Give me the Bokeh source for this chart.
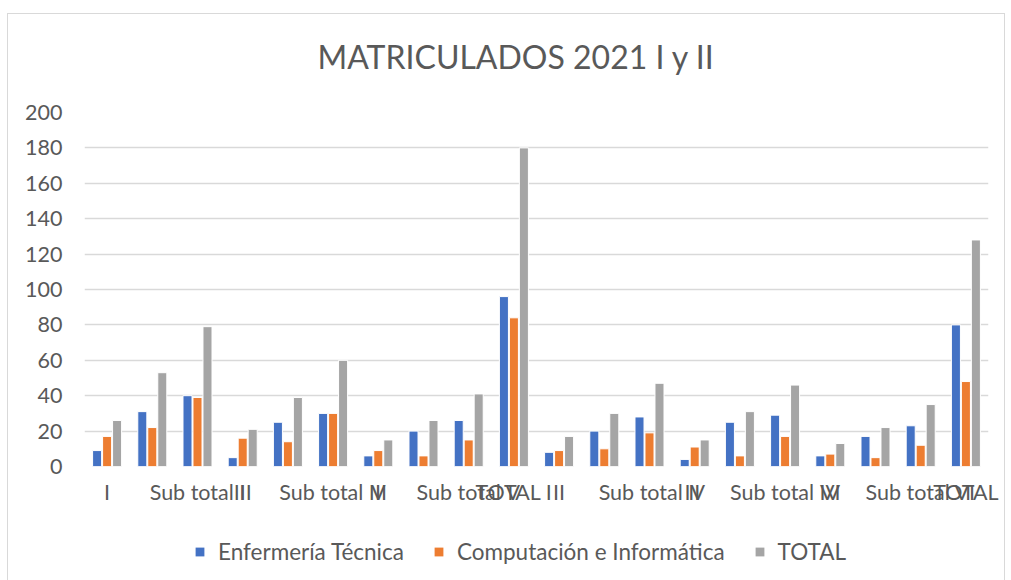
from bokeh.plotting import figure
from bokeh.layouts import column
from bokeh.models import ColumnDataSource, FixedTicker, Legend, LegendItem, Range1d
from bokeh.transform import dodge
from bokeh.embed import file_html
from bokeh.resources import INLINE

categories = ["I", "", "Sub total I", "III", "", "Sub total III", "V", "", "Sub total V", "TOTAL I",
              "II", "", "Sub total II", "IV", "", "Sub total IV", "VI", "", "Sub total VI", "TOTAL"]
enfermeria = [9, 31, 40, 5, 25, 30, 6, 20, 26, 96, 8, 20, 28, 4, 25, 29, 6, 17, 23, 80]
computacion = [17, 22, 39, 16, 14, 30, 9, 6, 15, 84, 9, 10, 19, 11, 6, 17, 7, 5, 12, 48]
total = [26, 53, 79, 21, 39, 60, 15, 26, 41, 180, 17, 30, 47, 15, 31, 46, 13, 22, 35, 128]
series_names = ["Enfermería Técnica", "Computación e Informática", "TOTAL"]
y_ticks = [0, 20, 40, 60, 80, 100, 120, 140, 160, 180, 200]
chart_title = "MATRICULADOS 2021 I y II"

colors = ["#4472C4", "#ED7D31", "#A5A5A5"]
FONT = "Lato"
TXT = "#595959"

xs = list(range(len(categories)))
src = ColumnDataSource(dict(x=xs, a=enfermeria, b=computacion, c=total))


def blank_strip(h, top):
    f = figure(width=996, height=h, output_backend="svg", toolbar_location=None,
               x_range=Range1d(100, 101), y_range=Range1d(1000, 1001),
               x_axis_location=None, y_axis_location=None,
               min_border_left=76, min_border_right=16, min_border_top=top, min_border_bottom=0)
    f.grid.visible = False
    f.outline_line_color = None
    return f


# title strip
pt = blank_strip(84, 66)
pt.title.text = chart_title
pt.title.align = "left"
pt.title.text_font = FONT
pt.title.text_font_size = "32px"
pt.title.text_font_style = "normal"
pt.title.text_color = TXT
pt.title.offset = 233
pt.title.standoff = 10

# main chart
p = figure(width=996, height=423, output_backend="svg", toolbar_location=None,
           x_range=Range1d(-0.5, len(categories) - 0.5), y_range=Range1d(0, 200),
           min_border_left=76, min_border_right=16, min_border_top=14, min_border_bottom=55)
p.title.text = ""

off = 0.221
w = 0.2
r1 = p.vbar(x=dodge("x", -off), top="a", width=w, source=src, fill_color=colors[0], line_color="white", line_width=1)
r2 = p.vbar(x=dodge("x", 0), top="b", width=w, source=src, fill_color=colors[1], line_color="white", line_width=1)
r3 = p.vbar(x=dodge("x", off), top="c", width=w, source=src, fill_color=colors[2], line_color="white", line_width=1)

p.xgrid.grid_line_color = None
p.ygrid.ticker = FixedTicker(ticks=y_ticks)
p.ygrid.grid_line_color = "#D9D9D9"
p.ygrid.grid_line_width = 1.5
p.yaxis.ticker = FixedTicker(ticks=y_ticks)
p.xaxis.ticker = FixedTicker(ticks=xs)
p.xaxis.major_label_overrides = {i: c for i, c in enumerate(categories)}
for ax in (p.xaxis, p.yaxis):
    ax.axis_line_color = None
    ax.major_tick_line_color = None
    ax.minor_tick_line_color = None
    ax.major_tick_out = 0
    ax.major_tick_in = 0
    ax.major_label_text_font = FONT
    ax.major_label_text_font_size = "21.5px"
    ax.major_label_text_color = TXT
p.yaxis.major_label_standoff = 22
p.xaxis.major_label_standoff = 12
p.outline_line_color = None

# legend strip below the chart (same data source; its ranges keep the bars out of view)
pl = blank_strip(60, 0)
lr = [pl.vbar(x="x", top=k, width=0.1, source=src, fill_color=c, line_color=None)
      for k, c in zip(["a", "b", "c"], colors)]
legend = Legend(items=[LegendItem(label=series_names[i], renderers=[r]) for i, r in enumerate(lr)],
                orientation="horizontal", location=(110, 16),
                label_text_font=FONT, label_text_font_size="22.5px", label_text_color=TXT,
                glyph_width=11, glyph_height=11, spacing=29, label_standoff=13,
                border_line_color=None, background_fill_alpha=0, margin=0, padding=0)
pl.add_layout(legend)

layout = column(pt, p, pl, spacing=0)
layout.styles = {"margin-left": "7px", "margin-top": "13px", "border": "1px solid #D9D9D9"}

open("out.html", "w").write(file_html(layout, INLINE))
